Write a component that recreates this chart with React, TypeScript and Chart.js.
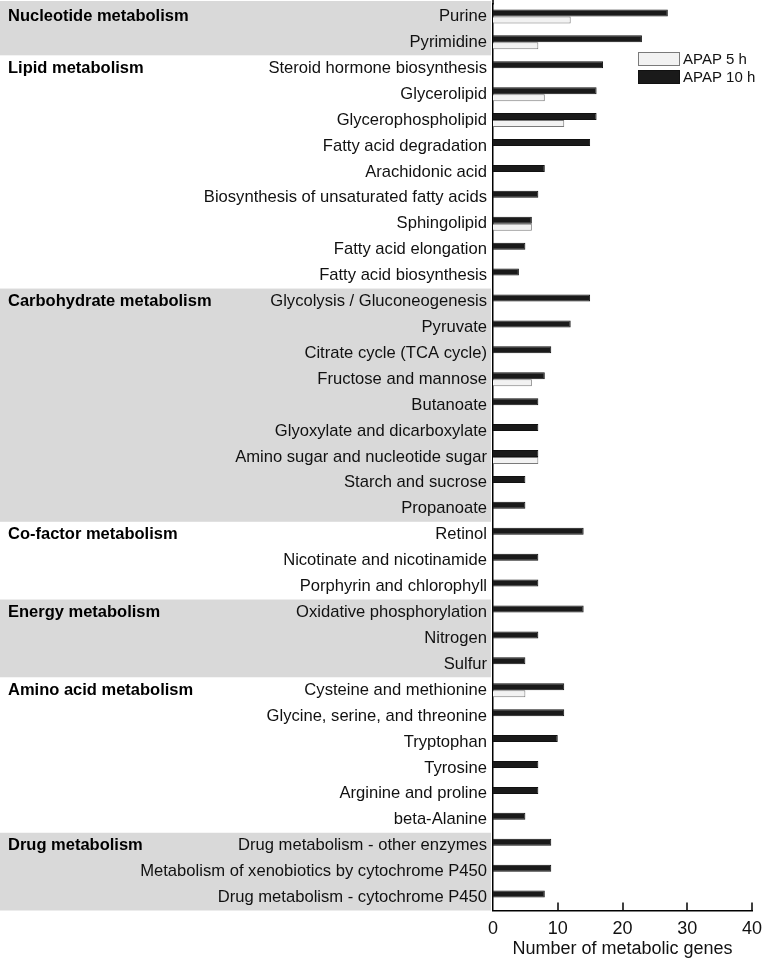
import React, { useEffect, useRef } from "react";
import { Chart, registerables } from "chart.js";

Chart.register(...registerables);

const categories = [
  "Purine",
  "Pyrimidine",
  "Steroid hormone biosynthesis",
  "Glycerolipid",
  "Glycerophospholipid",
  "Fatty acid degradation",
  "Arachidonic acid",
  "Biosynthesis of unsaturated fatty acids",
  "Sphingolipid",
  "Fatty acid elongation",
  "Fatty acid biosynthesis",
  "Glycolysis / Gluconeogenesis",
  "Pyruvate",
  "Citrate cycle (TCA cycle)",
  "Fructose and mannose",
  "Butanoate",
  "Glyoxylate and dicarboxylate",
  "Amino sugar and nucleotide sugar",
  "Starch and sucrose",
  "Propanoate",
  "Retinol",
  "Nicotinate and nicotinamide",
  "Porphyrin and chlorophyll",
  "Oxidative phosphorylation",
  "Nitrogen",
  "Sulfur",
  "Cysteine and methionine",
  "Glycine, serine, and threonine",
  "Tryptophan",
  "Tyrosine",
  "Arginine and proline",
  "beta-Alanine",
  "Drug metabolism - other enzymes",
  "Metabolism of xenobiotics by cytochrome P450",
  "Drug metabolism - cytochrome P450",
];

const apap10h = [27, 23, 17, 16, 16, 15, 8, 7, 6, 5, 4, 15, 12, 9, 8, 7, 7, 7, 5, 5, 14, 7, 7, 14, 7, 5, 11, 11, 10, 7, 7, 5, 9, 9, 8];
const apap5h = [12, 7, 0, 8, 11, 0, 0, 0, 6, 0, 0, 0, 0, 0, 6, 0, 0, 7, 0, 0, 0, 0, 0, 0, 0, 0, 5, 0, 0, 0, 0, 0, 0, 0, 0];

const groupNames = [
  "Nucleotide metabolism",
  "Lipid metabolism",
  "Carbohydrate metabolism",
  "Co-factor metabolism",
  "Energy metabolism",
  "Amino acid metabolism",
  "Drug metabolism",
];
const groupStarts = [0, 2, 11, 20, 23, 26, 32];
const groupShaded = [true, false, true, false, true, false, true];

const xTicks = [0, 10, 20, 30, 40];

const FONT = "'Liberation Sans', Arial, sans-serif";
const TEXT = "#111111";

const groupsPlugin = {
  id: "groups",
  beforeDraw(chart: any) {
    const { ctx, chartArea, scales } = chart;
    const y = scales.y;
    const n = categories.length;
    const half = (y.getPixelForValue(1) - y.getPixelForValue(0)) / 2;
    ctx.save();
    for (let g = 0; g < groupNames.length; g++) {
      const s = groupStarts[g];
      const e = g + 1 < groupStarts.length ? groupStarts[g + 1] - 1 : n - 1;
      if (groupShaded[g]) {
        const top = s === 0 ? 1 : y.getPixelForValue(s) - half;
        const bot = y.getPixelForValue(e) + half;
        ctx.fillStyle = "#d9d9d9";
        ctx.fillRect(0, top, chartArea.left - 2, bot - top);
      }
    }
    ctx.restore();
  },
  afterDraw(chart: any) {
    const { ctx, chartArea, scales } = chart;
    const y = scales.y;
    const x = scales.x;
    ctx.save();
    ctx.strokeStyle = "#000";
    ctx.lineWidth = 1.5;
    ctx.beginPath();
    ctx.moveTo(chartArea.left, 0);
    ctx.lineTo(chartArea.left, chartArea.top + 1);
    ctx.stroke();
    ctx.font = `bold 16.5px ${FONT}`;
    ctx.fillStyle = "#000";
    ctx.textBaseline = "middle";
    ctx.textAlign = "left";
    for (let g = 0; g < groupNames.length; g++) {
      ctx.fillText(groupNames[g], 8, y.getPixelForValue(groupStarts[g]));
    }
    for (const t of xTicks) {
      if (t === 0) continue;
      const px = Math.round(x.getPixelForValue(t));
      ctx.beginPath();
      ctx.moveTo(px, chartArea.bottom);
      ctx.lineTo(px, chartArea.bottom - 8);
      ctx.stroke();
    }
    const order = [1, 0];
    const boxW = 42;
    const boxH = 14;
    const left = chartArea.right - 114;
    let top = 52;
    ctx.font = `15px ${FONT}`;
    for (const i of order) {
      const ds = chart.data.datasets[i];
      ctx.fillStyle = ds.backgroundColor;
      ctx.fillRect(left, top, boxW, boxH);
      ctx.strokeStyle = ds.borderColor;
      ctx.lineWidth = 1;
      ctx.strokeRect(left + 0.5, top + 0.5, boxW - 1, boxH - 1);
      ctx.fillStyle = TEXT;
      ctx.fillText(ds.label, left + boxW + 3, top + boxH / 2 + 0.5);
      top += 18;
    }
    ctx.restore();
  },
};

export default function App() {
  const ref = useRef<HTMLCanvasElement | null>(null);

  useEffect(() => {
    document.body.style.margin = "0";
    const canvas = ref.current;
    if (!canvas) return;
    const chart = new Chart(canvas, {
      type: "bar",
      data: {
        labels: categories,
        datasets: [
          {
            label: "APAP 10 h",
            data: apap10h.map((v) => (v === 0 ? null : v)),
            backgroundColor: "#1a1a1a",
            borderColor: "#111111",
            borderWidth: 1,
            categoryPercentage: 0.54,
            barPercentage: 1.0,
          },
          {
            label: "APAP 5 h",
            data: apap5h.map((v) => (v === 0 ? null : v)),
            backgroundColor: "#f2f2f2",
            borderColor: "#7a7a7a",
            borderWidth: 1,
            categoryPercentage: 0.54,
            barPercentage: 1.0,
          },
        ],
      },
      options: {
        indexAxis: "y",
        responsive: false,
        animation: false,
        layout: { padding: { top: 3.5, right: 10, left: 0, bottom: 0 } },
        font: { family: FONT },
        plugins: {
          legend: { display: false },
          tooltip: { enabled: false },
        },
        scales: {
          x: {
            type: "linear",
            min: 0,
            max: 40,
            afterBuildTicks: (scale: any) => {
              scale.ticks = xTicks.map((v) => ({ value: v }));
            },
            ticks: {
              font: { family: FONT, size: 18 },
              color: TEXT,
              padding: 8,
            },
            grid: { display: false, drawTicks: false },
            border: { display: true, color: "#000", width: 1.5 },
            title: {
              display: true,
              text: "Number of metabolic genes",
              font: { family: FONT, size: 18 },
              color: TEXT,
              padding: { top: 0, bottom: 0 },
            },
            afterFit: (scale: any) => {
              scale.height = 49.5;
              scale.paddingLeft = 0;
              scale.paddingRight = 0;
            },
          },
          y: {
            type: "category",
            ticks: {
              font: { family: FONT, size: 16.6 },
              color: TEXT,
              padding: 6,
              autoSkip: false,
            },
            grid: { display: false, drawTicks: false },
            border: { display: true, color: "#000", width: 1.5 },
            afterFit: (scale: any) => {
              scale.width = 493;
              scale.paddingTop = 0;
              scale.paddingBottom = 0;
            },
          },
        },
      } as any,
      plugins: [groupsPlugin],
    });
    return () => chart.destroy();
  }, []);

  return (
    <div style={{ width: 762, height: 960 }}>
      <canvas ref={ref} width={762} height={960} style={{ display: "block" }} />
    </div>
  );
}
